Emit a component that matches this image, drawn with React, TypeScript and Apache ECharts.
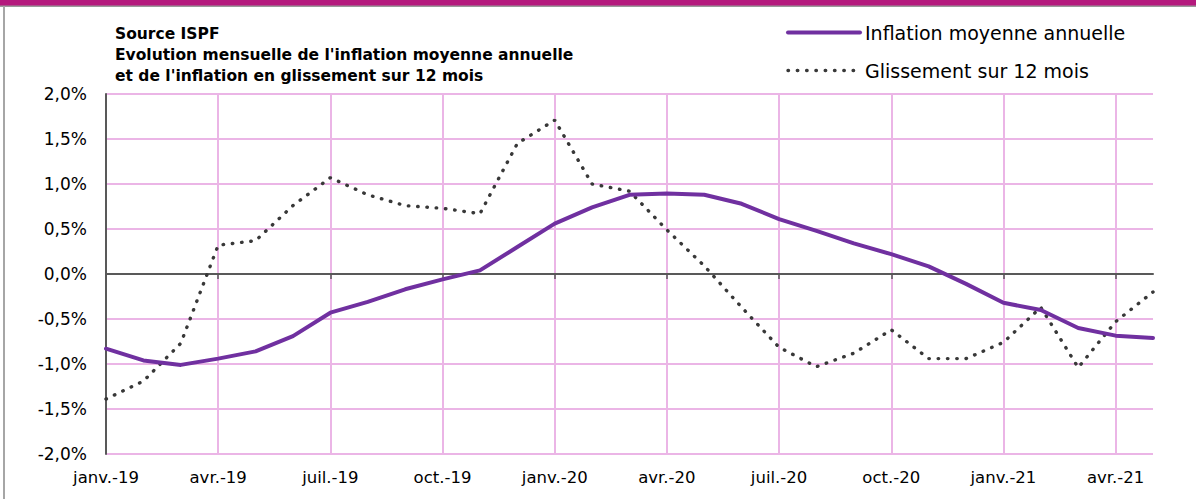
import React, { useEffect, useRef } from 'react';
import * as echarts from 'echarts';

const months = [
  'janv.-19', 'févr.-19', 'mars-19', 'avr.-19', 'mai-19', 'juin-19', 'juil.-19', 'août-19', 'sept.-19', 'oct.-19', 'nov.-19', 'déc.-19',
  'janv.-20', 'févr.-20', 'mars-20', 'avr.-20', 'mai-20', 'juin-20', 'juil.-20', 'août-20', 'sept.-20', 'oct.-20', 'nov.-20', 'déc.-20',
  'janv.-21', 'févr.-21', 'mars-21', 'avr.-21', 'mai-21',
];

const inflationMoyenne = [
  -0.83, -0.96, -1.01, -0.94, -0.86, -0.69, -0.43, -0.31, -0.17, -0.06, 0.04, 0.3,
  0.56, 0.74, 0.88, 0.895, 0.88, 0.78, 0.61, 0.48, 0.34, 0.22, 0.085, -0.11,
  -0.32, -0.4, -0.6, -0.685, -0.71,
];

const glissement = [
  -1.39, -1.19, -0.77, 0.32, 0.37, 0.76, 1.07, 0.88, 0.76, 0.73, 0.67, 1.45,
  1.71, 1.0, 0.92, 0.49, 0.09, -0.37, -0.815, -1.03, -0.88, -0.62, -0.94, -0.94,
  -0.76, -0.37, -1.04, -0.53, -0.2,
];

const titleLines = [
  'Source ISPF',
  "Evolution mensuelle de l'inflation moyenne annuelle",
  "et de l'inflation en glissement sur 12 mois",
];

const seriesNames = ['Inflation moyenne annuelle', 'Glissement sur 12 mois'];

export default function App() {
  const ref = useRef<HTMLDivElement>(null);

  useEffect(() => {
    document.body.style.margin = '0';
    const chart = echarts.init(ref.current!, null, { renderer: 'svg' });
    const font = 'DejaVu Sans';
    const pink = '#EBB5E6';
    const axisGray = '#595959';
    const purple = '#7030A0';
    const dotGray = '#383838';
    const quarterly = (i: number) => i % 3 === 0;
    const dotted = { color: dotGray, width: 3.4, type: [0.5, 8.8], cap: 'round' };

    chart.setOption({
      animation: false,
      backgroundColor: '#ffffff',
      textStyle: { fontFamily: font },
      title: {
        text: titleLines.join('\n'),
        left: 110,
        top: 18,
        padding: 5,
        textStyle: { fontFamily: font, fontSize: 15.5, fontWeight: 'bold', lineHeight: 21, color: '#000' },
      },
      legend: {
        orient: 'vertical',
        left: 786,
        top: 23,
        padding: 0,
        itemWidth: 72,
        itemHeight: 20,
        itemGap: 19,
        textStyle: { fontFamily: font, fontSize: 19, color: '#000' },
        data: [
          { name: seriesNames[0], itemStyle: { opacity: 0 }, lineStyle: { width: 4, cap: 'round' } },
          { name: seriesNames[1], itemStyle: { opacity: 0 }, lineStyle: { width: 3.4 } },
        ],
      },
      graphic: [
        { type: 'rect', shape: { x: 0, y: 0, width: 1196, height: 6 }, style: { fill: '#B4197D' }, silent: true },
        { type: 'rect', shape: { x: 0, y: 5.5, width: 1196, height: 1.5 }, style: { fill: '#9A9A9A' }, silent: true },
        { type: 'rect', shape: { x: 3, y: 6, width: 2, height: 493 }, style: { fill: '#A6A6A6' }, silent: true },
      ],
      grid: { left: 106, right: 43, top: 94, bottom: 45 },
      xAxis: [
        {
          type: 'category',
          data: months,
          boundaryGap: false,
          position: 'bottom',
          axisLine: { show: false, onZero: false },
          axisTick: { show: false },
          axisLabel: { interval: quarterly, fontFamily: font, fontSize: 16.5, color: '#000', margin: 15 },
          splitLine: {
            show: true,
            interval: (i: number) => i % 3 === 0 && i > 0,
            lineStyle: { color: pink, width: 2 },
          },
        },
        {
          type: 'category',
          data: months,
          boundaryGap: false,
          position: 'bottom',
          axisLine: { show: true, onZero: true, lineStyle: { color: axisGray, width: 2 } },
          axisTick: { show: true, interval: quarterly, length: 5, lineStyle: { color: axisGray, width: 1.5 } },
          axisLabel: { show: false },
          splitLine: { show: false },
        },
      ],
      yAxis: {
        type: 'value',
        min: -2,
        max: 2,
        interval: 0.5,
        axisLine: { show: true, lineStyle: { color: axisGray, width: 2 } },
        axisTick: { show: false },
        axisLabel: {
          fontFamily: font,
          fontSize: 17,
          color: '#000',
          margin: 19,
          formatter: (v: number) => v.toFixed(1).replace('.', ',') + '%',
        },
        splitLine: { show: true, lineStyle: { color: pink, width: 2 } },
      },
      series: [
        {
          name: seriesNames[0],
          type: 'line',
          data: inflationMoyenne,
          symbol: 'none',
          lineStyle: { color: purple, width: 4, cap: 'round', join: 'round' },
          itemStyle: { color: purple },
          z: 3,
        },
        {
          name: seriesNames[1],
          type: 'line',
          data: glissement,
          symbol: 'none',
          lineStyle: dotted,
          itemStyle: { color: dotGray },
          z: 2,
        },
      ],
    });

    return () => chart.dispose();
  }, []);

  return <div ref={ref} style={{ width: 1196, height: 499 }} />;
}
